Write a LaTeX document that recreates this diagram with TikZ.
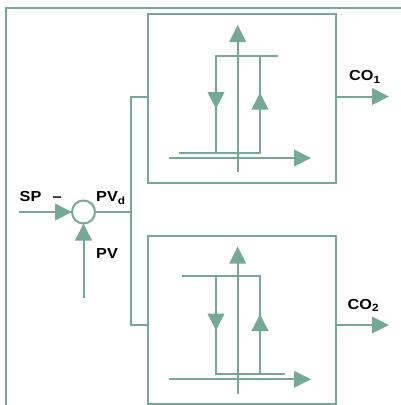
\documentclass[tikz,border=0pt]{standalone}
\usepackage{fontspec}
\setmainfont{Liberation Sans}
\usetikzlibrary{arrows.meta}
\definecolor{ln}{HTML}{74A899}
\newcommand{\lab}[2]{\textbf{\fontsize{14.5}{14.5}\selectfont\scalebox{1.12}[1]{#1\raisebox{-2.5pt}{\fontsize{10.5}{10.5}\selectfont #2}}}}
\tikzset{
  x=1pt,y=-1pt,
  wire/.style={draw=ln,line width=2pt},
  arr/.style={wire,-{Triangle[length=17pt,width=16.5pt,fill=ln]}},
  blockbox/.style={draw=ln,line width=2pt,minimum width=188pt,inner sep=0pt,outer sep=0pt},
  sumnode/.style={circle,draw=ln,line width=2pt,minimum size=23pt,inner sep=0pt,outer sep=0pt},
  txt/.style={inner sep=0pt,anchor=base west,text=black}
}
\begin{document}
\begin{tikzpicture}
\useasboundingbox (0,0) rectangle (401,405);
% outer frame
\coordinate (fa) at (6,405); \coordinate (fb) at (6,8); \coordinate (fc) at (401,8);
\draw[wire] (fa) -- (fb) -- (fc);
% blocks
\node[blockbox,minimum height=168.5pt] (b1) at (241.6,98.7) {};
\node[blockbox,minimum height=168.5pt] (b2) at (241.6,320.2) {};
% summing junction
\node[sumnode] (s) at (83.5,212) {};
\coordinate (sp) at (19,212);
\coordinate (pv) at (83.5,298);
\draw[arr] (sp) -- (s);
\draw[arr] (pv) -- (s);
\coordinate (j) at (130.5,212);
\coordinate (j1) at (130.5,96.5);
\coordinate (j2) at (130.5,324.5);
\draw[wire] (s) -- (j);
\draw[wire] (b1.west |- j1) -- (j1) -- (j2) -- (b2.west |- j2);
% outputs
\coordinate (o1) at (389,96.5);
\coordinate (o2) at (389,325);
\draw[arr] (b1.east |- o1) -- (o1);
\draw[arr] (b2.east |- o2) -- (o2);
% top plot
\coordinate (a1) at (237.7,172); \coordinate (a2) at (237.7,25);
\coordinate (a3) at (169,158); \coordinate (a4) at (311,158);
\draw[arr] (a1) -- (a2);
\draw[arr] (a3) -- (a4);
\coordinate (h1) at (278,56); \coordinate (h2) at (216,56); \coordinate (h3) at (216,152.5);
\coordinate (h4) at (179,152.5); \coordinate (h5) at (260,152.5); \coordinate (h6) at (260,56);
\coordinate (h7) at (216,109); \coordinate (h8) at (260,92.5);
\draw[wire] (h1) -- (h2) -- (h3);
\draw[wire] (h4) -- (h5) -- (h6);
\draw[arr] (h2) -- (h7);
\draw[arr] (h5) -- (h8);
% bottom plot
\coordinate (c1) at (237.7,394); \coordinate (c2) at (237.7,246.5);
\coordinate (c3) at (169,379.3); \coordinate (c4) at (311,379.3);
\draw[arr] (c1) -- (c2);
\draw[arr] (c3) -- (c4);
\coordinate (k1) at (181.7,276.3); \coordinate (k2) at (260,276.3); \coordinate (k3) at (260,374);
\coordinate (k4) at (216,276.3); \coordinate (k5) at (216,374); \coordinate (k6) at (285,374);
\coordinate (k7) at (216,330.5); \coordinate (k8) at (260,314);
\draw[wire] (k1) -- (k2) -- (k3);
\draw[wire] (k4) -- (k5) -- (k6);
\draw[arr] (k4) -- (k7);
\draw[arr] (k3) -- (k8);
% labels
\node[txt] (tsp) at (19.5,201.5) {\lab{SP\hspace{10pt}–}{}};
\node[txt] (tpvd) at (96,201.5) {\lab{PV}{d}};
\node[txt] (tpv) at (96,258.5) {\lab{PV}{}};
\node[txt] (tco1) at (349,80.5) {\lab{CO}{1}};
\node[txt] (tco2) at (347.5,309) {\lab{CO}{2}};
\end{tikzpicture}
\end{document}
